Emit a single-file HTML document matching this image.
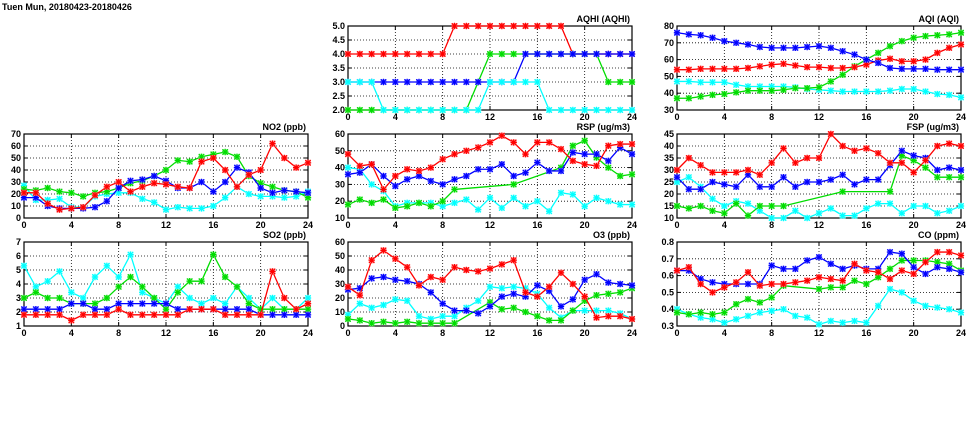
<!DOCTYPE html>
<html><head><meta charset="utf-8"><style>
html,body{margin:0;padding:0;background:#fff;width:975px;height:447px;overflow:hidden}
svg{display:block}
text{font-family:"Liberation Sans",sans-serif;font-weight:bold;font-size:9px;fill:#000}
</style></head><body>
<svg id="chart" width="975" height="447" viewBox="0 0 975 447">
<text x="2" y="10" font-size="9">Tuen Mun, 20180423-20180426</text>
</svg>
<script>
const hours = [0,1,2,3,4,5,6,7,8,9,10,11,12,13,14,15,16,17,18,19,20,21,22,23,24];
const xTicks = [0,4,8,12,16,20,24];
const N = null;
// AQHI
const aqhiRed = [4,4,4,4,4,4,4,4,4,5,5,5,5,5,5,5,5,5,5,4,4,4,4,4,4];
const aqhiGreen = [2,2,2,2,2,2,2,2,2,2,2,3,4,4,4,4,4,4,4,4,4,4,3,3,3];
const aqhiBlue = [3,3,3,3,3,3,3,3,3,3,3,3,3,3,3,4,4,4,4,4,4,4,4,4,4];
const aqhiCyan = [3,3,3,2,2,2,2,2,2,2,2,2,3,3,3,3,3,2,2,2,2,2,2,2,2];
const aqhiTicks = [2.0,2.5,3.0,3.5,4.0,4.5,5.0];
// AQI
const aqiRed = [54,54,54.5,54.5,54.5,54.5,55,56,57,57.5,56.5,55.5,55.5,55,55,55.5,57,59.5,60.5,59,59,60,64,67,69];
const aqiGreen = [37,37,38,39,39.5,40.5,41.5,41.5,41.5,42,43,43,43.5,47,51,56,60,64,68,71,73,74,74.5,75,76];
const aqiBlue = [76,75,74.5,73,71,70,69,67.5,67,67,67,67.5,68,67,65,63,60,58,55,54.5,54.5,54.5,54,54,54];
const aqiCyan = [47,47,46.5,46.5,46.5,45,44,44,44,44,43.5,42.5,42,41.5,41,41,41,41,41.5,42.5,42.5,41,39.5,39,37.5];
const aqiTicks = [30,40,50,60,70,80];
// NO2
const no2Red = [21,21,12,7,8,9,19,26,30,22,26,29,28,26,25,47,50,40,26,36,40,62,50,42,46];
const no2Green = [24,23,25,22,21,18,21,22,25,29,31,35,40,48,47,51,53,55,51,35,29,26,23,22,17];
const no2Blue = [17,17,10,8,8,8,9,14,25,31,32,35,31,25,25,30,22,30,42,38,25,21,23,22,21];
const no2Cyan = [27,15,15,16,9,9,18,20,21,21,16,13,7,9,8,8,10,17,26,20,18,18,17,18,22];
const no2Ticks = [0,10,20,30,40,50,60,70];
// RSP
const rspRed = [48,41,42,27,35,39,38,40,45,48,50,52,55,59,55,48,55,55,51,44,42,41,53,54,54];
const rspGreen = [18,21,19,21,16,17,19,17,20,27,N,N,N,N,30,N,N,N,40,53,56,46,40,35,36];
const rspBlue = [36,37,42,35,29,33,35,32,30,33,35,39,39,42,35,37,43,38,38,49,48,48,44,52,48];
const rspCyan = [40,39,30,26,17,19,19,19,17,19,21,15,22,16,22,17,20,14,25,24,17,22,20,18,18];
const rspTicks = [10,20,30,40,50,60];
// FSP
const fspRed = [30,35,32,29,29,29,30,28,33,39,33,35,35,45,40,38,39,37,33,33,29,34,40,41,40];
const fspGreen = [15,14,15,13,12,16,11,15,15,15,N,N,N,N,21,N,N,N,21,36,34,31,27,27,27];
const fspBlue = [27,22,22,25,24,23,28,23,23,27,23,25,25,26,28,24,26,26,32,38,36,35,30,31,30];
const fspCyan = [25,27,23,18,15,17,16,13,10,10,13,10,12,14,11,11,14,16,16,12,15,15,12,13,15];
const fspTicks = [10,15,20,25,30,35,40,45];
// SO2
const so2Red = [1.8,1.8,1.8,1.8,1.4,1.8,1.8,1.8,2.2,1.8,1.8,1.8,1.8,1.8,2.2,2.2,2.2,1.8,1.8,1.8,1.8,4.9,3.0,2.2,2.6];
const so2Green = [3.0,3.4,3.0,3.0,2.6,2.6,2.6,3.0,3.8,4.5,3.8,3.0,2.2,3.4,4.2,4.2,6.1,4.5,3.8,2.6,2.2,2.2,2.2,2.2,2.2];
const so2Blue = [2.2,2.2,2.2,2.2,2.6,2.6,2.2,2.2,2.6,2.6,2.6,2.6,2.6,2.2,2.2,2.2,2.2,2.2,2.2,2.2,1.8,1.8,1.8,1.8,1.8];
const so2Cyan = [5.3,3.8,4.2,4.9,3.4,3.0,4.5,5.3,4.5,6.1,3.4,3.0,2.6,3.8,3.0,2.6,3.0,2.6,3.8,3.0,2.2,3.0,2.2,2.2,3.0];
const so2Ticks = [1,2,3,4,5,6,7];
// O3
const o3Red = [28,22,47,54,48,42,29,35,33,42,40,39,41,44,47,24,21,28,38,30,21,6,7,7,5];
const o3Green = [5,4,2,3,2,3,2,2,2,2,N,N,17,12,13,10,7,4,4,11,18,22,23,24,27];
const o3Blue = [26,27,34,35,33,32,30,24,16,11,11,9,14,21,23,21,29,25,14,19,33,37,31,30,29];
const o3Cyan = [8,16,13,15,19,18,7,5,7,7,13,18,28,27,28,27,23,13,6,11,11,11,11,9,5];
const o3Ticks = [0,10,20,30,40,50,60];
// CO
const coRed = [.63,.65,.55,.50,.53,.56,.62,.54,.55,.55,.56,.57,.59,.58,.57,.67,.63,.62,.58,.63,.61,.68,.74,.74,.72];
const coGreen = [.38,.37,.38,.37,.38,.43,.46,.44,.47,.54,N,N,.52,.53,.53,.57,.55,.59,.64,.69,.69,.69,.68,.67,.63];
const coBlue = [.63,.63,.58,.56,.55,.55,.55,.55,.66,.64,.64,.69,.71,.67,.64,.66,.64,.64,.74,.73,.65,.61,.65,.64,.62];
const coCyan = [.40,.37,.35,.34,.32,.34,.36,.38,.39,.40,.36,.35,.31,.33,.32,.33,.32,.42,.52,.50,.45,.42,.41,.40,.38];
const coTicks = [0.3,0.4,0.5,0.6,0.7,0.8];

const svg = document.getElementById('chart');
const NS = 'http://www.w3.org/2000/svg';
function mk(tag, attrs, parent){const e=document.createElementNS(NS,tag);for(const k in attrs)e.setAttribute(k,attrs[k]);(parent||svg).appendChild(e);return e;}

const colors = {red:'#ff0000',green:'#00dd00',blue:'#0000ff',cyan:'#00ffff'};
const halos = {red:'#ff9999',green:'#99ee99',blue:'#9999ff',cyan:'#aaffff'};
const W = 284, H = 84;
const panels = [
 {key:'aqhi',title:'AQHI (AQHI)',x:348,y:26,ticks:aqhiTicks,dec:1,series:[['red',aqhiRed],['green',aqhiGreen],['blue',aqhiBlue],['cyan',aqhiCyan]]},
 {key:'aqi',title:'AQI (AQI)',x:677,y:26,ticks:aqiTicks,dec:0,series:[['cyan',aqiCyan],['green',aqiGreen],['red',aqiRed],['blue',aqiBlue]]},
 {key:'no2',title:'NO2 (ppb)',x:24,y:134,ticks:no2Ticks,dec:0,series:[['cyan',no2Cyan],['green',no2Green],['blue',no2Blue],['red',no2Red]]},
 {key:'rsp',title:'RSP (ug/m3)',x:348,y:134,ticks:rspTicks,dec:0,series:[['cyan',rspCyan],['green',rspGreen],['blue',rspBlue],['red',rspRed]]},
 {key:'fsp',title:'FSP (ug/m3)',x:677,y:134,ticks:fspTicks,dec:0,series:[['cyan',fspCyan],['green',fspGreen],['blue',fspBlue],['red',fspRed]]},
 {key:'so2',title:'SO2 (ppb)',x:24,y:242,ticks:so2Ticks,dec:0,series:[['cyan',so2Cyan],['green',so2Green],['blue',so2Blue],['red',so2Red]]},
 {key:'o3',title:'O3 (ppb)',x:348,y:242,ticks:o3Ticks,dec:0,series:[['cyan',o3Cyan],['green',o3Green],['blue',o3Blue],['red',o3Red]]},
 {key:'co',title:'CO (ppm)',x:677,y:242,ticks:coTicks,dec:1,series:[['cyan',coCyan],['green',coGreen],['blue',coBlue],['red',coRed]]}
];

panels.forEach(p=>{
  const g = mk('g',{});
  
  
  const ymin = p.ticks[0], ymax = p.ticks[p.ticks.length-1];
  const xs = h => p.x + h/24*W;
  const ys = v => p.y + H - (v-ymin)/(ymax-ymin)*H;
  xTicks.forEach(t=>{
    if(t>0 && t<24){
      const l = mk('line',{x1:xs(t),x2:xs(t),y1:p.y,y2:p.y+H,stroke:'#000','stroke-width':0.8,'stroke-dasharray':'1,2'},g);
      
      
    }
    const tl = mk('text',{x:xs(t),y:p.y+H+10,'text-anchor':'middle'},g);
    tl.textContent = t;
    
    
    mk('line',{x1:xs(t),x2:xs(t),y1:p.y+H,y2:p.y+H-4,stroke:'#000'},g);
    mk('line',{x1:xs(t),x2:xs(t),y1:p.y,y2:p.y+4,stroke:'#000'},g);
  });
  p.ticks.forEach(t=>{
    const y = ys(t);
    if(t>ymin && t<ymax){
      const l = mk('line',{x1:p.x,x2:p.x+W,y1:y,y2:y,stroke:'#000','stroke-width':0.8,'stroke-dasharray':'1,2'},g);
      
      
    }
    const tl = mk('text',{x:p.x-3,y:y+3,'text-anchor':'end'},g);
    tl.textContent = t.toFixed(p.dec);
    
    
    mk('line',{x1:p.x,x2:p.x+4,y1:y,y2:y,stroke:'#000'},g);
    mk('line',{x1:p.x+W,x2:p.x+W-4,y1:y,y2:y,stroke:'#000'},g);
  });
  const fr = mk('rect',{x:p.x,y:p.y,width:W,height:H,fill:'none',stroke:'#000','stroke-width':1.2},g);
  
  
  const tt = mk('text',{x:p.x+W-2,y:p.y-4,'text-anchor':'end'},g);
  tt.textContent = p.title;
  
  
  p.series.forEach(([c,vals])=>{
    const sg = mk('g',{},g);
    
    
    const pts = [];
    hours.forEach((h,i)=>{ if(vals[i]!==null) pts.push([xs(h),ys(vals[i])]); });
    const line = mk('polyline',{points:pts.map(q=>q.join(',')).join(' '),fill:'none',stroke:colors[c],'stroke-width':1.3},sg);
    
    
    pts.forEach(([x,y])=>{
      const m = mk('g',{},sg);
      
      
      mk('rect',{x:x-3,y:y-3,width:6,height:6,fill:halos[c],opacity:0.8},m);
      mk('path',{d:`M${x-2.7},${y-2.7}L${x+2.7},${y+2.7}M${x-2.7},${y+2.7}L${x+2.7},${y-2.7}M${x-3.2},${y}L${x+3.2},${y}M${x},${y-3.2}L${x},${y+3.2}`,stroke:colors[c],'stroke-width':1.2},m);
    });
  });
});
</script>
</body></html>
